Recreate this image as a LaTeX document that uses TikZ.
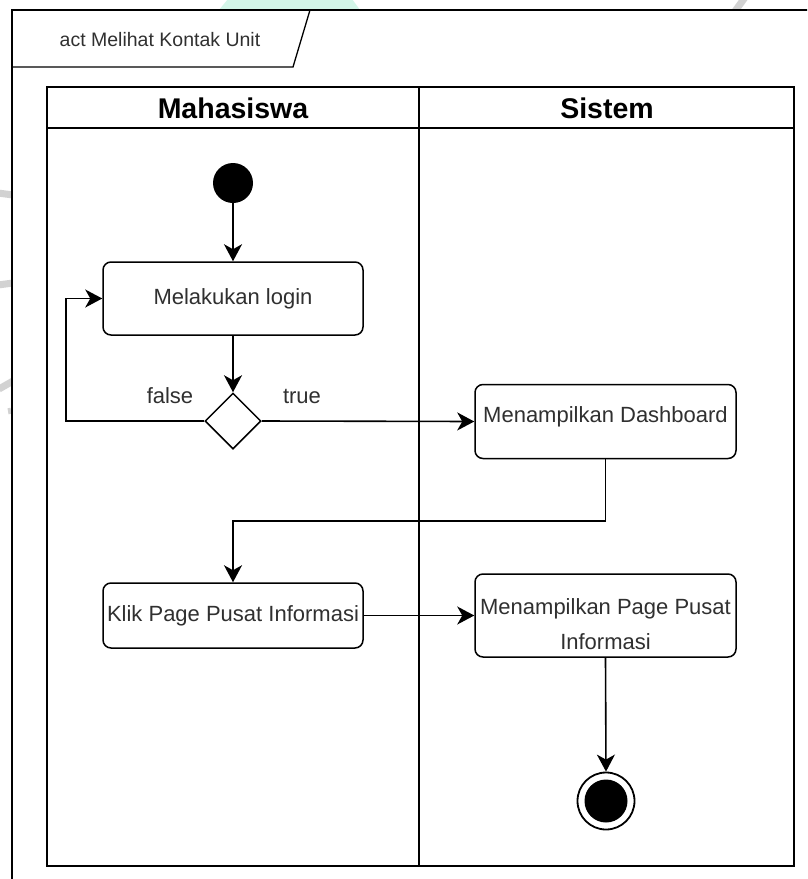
\documentclass[tikz,border=0pt]{standalone}
\usepackage{fontspec}
\setmainfont{Liberation Sans}
\usetikzlibrary{shapes.geometric,arrows.meta}
\definecolor{inkgrey}{HTML}{303030}
\definecolor{mint}{HTML}{D3F6E8}
\definecolor{markgrey}{HTML}{D2D2D2}
\tikzset{
  frameline/.style={draw=black, line width=1.8pt},
  laneline/.style={draw=black, line width=1.7pt},
  action/.style={draw=black, line width=1.5pt, rounded corners=8pt, fill=white,
    text=inkgrey, font=\fontsize{22}{26}\selectfont, inner sep=0pt, align=center},
  boxtext/.style={text=inkgrey, font=\fontsize{22}{35}\selectfont, inner sep=0pt, align=center},
  decision/.style={diamond, draw=black, line width=1.5pt, fill=white,
    minimum width=56pt, minimum height=56pt, inner sep=0pt},
  guard/.style={text=inkgrey, font=\fontsize{22}{26}\selectfont, inner sep=0pt},
  lanehead/.style={text=black, font=\bfseries\fontsize{28.5}{30}\selectfont, inner sep=0pt},
  flow/.style={draw=black, line width=1.6pt, -{Stealth[length=17pt,width=18pt,inset=5pt]}},
  logostroke/.style={draw=markgrey, line width=7pt}
}
\begin{document}
\begin{tikzpicture}[x=1pt,y=-1pt]
  \useasboundingbox (0,0) rectangle (807,879);
  \clip (0,0) rectangle (807,879);
  \fill[white] (0,0) rectangle (807,879);

  % background logo traces
  \fill[mint] (228,-1) -- (352,-1) -- (360,10) -- (219,10) -- cycle;
  \draw[logostroke] (746,-4) -- (733,14);
  \draw[logostroke] (-2,193) -- (13,195);
  \draw[logostroke] (-2,285) -- (13,283);
  \draw[logostroke] (-1,389) -- (13,381);
  \draw[draw=markgrey, line width=3pt] (9,408) -- (10,414);

  % diagram frame and title tab
  \filldraw[frameline, fill=white] (12,10) rectangle (840,900);
  \coordinate (tabA) at (12,67);
  \coordinate (tabB) at (293,67);
  \coordinate (tabC) at (310,10);
  \draw[frameline, line width=1.3pt] (tabA) -- (tabB) -- (tabC);
  \node[text=inkgrey, font=\fontsize{19.5}{22}\selectfont, inner sep=0pt] (title) at (160,40) {act Melihat Kontak Unit};

  % swimlanes
  \draw[laneline] (47,87) rectangle (794,866);
  \draw[laneline] (47,128) -- (794,128);
  \draw[laneline] (419,87) -- (419,866);
  \node[lanehead] (mhs) at (233,108) {Mahasiswa};
  \node[lanehead] (sis) at (607,108) {Sistem};

  % activity nodes
  \node[circle, fill=black, minimum size=40pt, inner sep=0pt] (start) at (233,183) {};
  \node[action, minimum width=260pt, minimum height=73pt] (login) at (233,298.5) {Melakukan login};
  \node[decision] (dec) at (233,421) {};
  \node[guard] (lfalse) at (170,396) {false};
  \node[guard] (ltrue) at (302,396) {true};
  \node[action, minimum width=261pt, minimum height=74pt] (dash) at (605.5,421.5) {};
  \node[boxtext] (dashtxt) at (605.5,417) {Menampilkan Dashboard};
  \node[action, minimum width=260pt, minimum height=65pt] (klik) at (233,615.5) {Klik Page Pusat Informasi};
  \node[action, minimum width=261pt, minimum height=83pt] (page) at (605.5,615.5) {};
  \node[boxtext] (pagetxt) at (605.5,624.5) {Menampilkan Page Pusat\\Informasi};
  \node[circle, draw=black, line width=1.8pt, fill=white, minimum size=57pt, inner sep=0pt] (end) at (606,801) {};
  \node[circle, fill=black, minimum size=43pt, inner sep=0pt] (endcore) at (606,801) {};

  % control flows
  \coordinate (loop) at (66,421);
  \draw[flow] (start) -- (login);
  \draw[flow] (login) -- (dec);
  \draw[flow] (dec.west) -- (loop) |- (login.west);
  \draw[flow] (dec.east) -- (dash.west);
  \draw[flow] (dash.south) -- ++(0,62) -| (klik.north);
  \draw[flow] (klik.east) -- (page.west);
  \draw[flow] (page.south) -- (end.north);
\end{tikzpicture}
\end{document}
